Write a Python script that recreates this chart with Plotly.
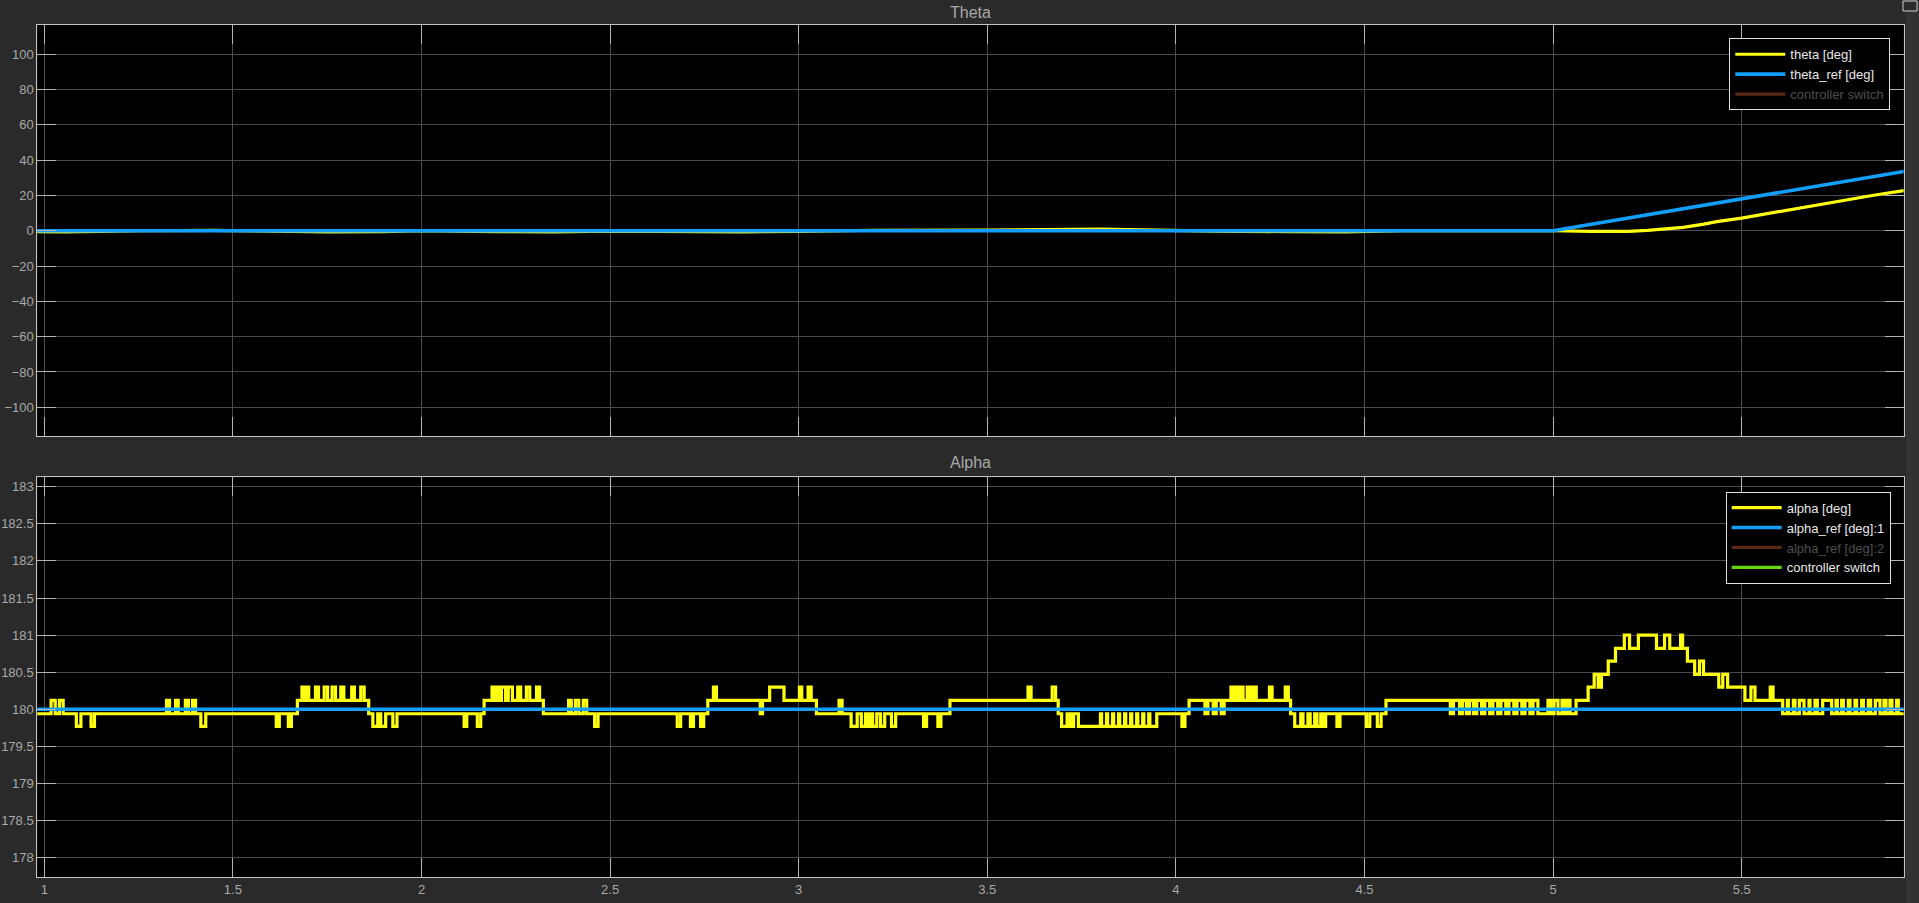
import plotly.graph_objects as go

# ---------------- data ----------------
# Theta plot
theta_time = [0.98, 1.05, 1.15, 1.25, 1.45, 1.6, 1.75, 1.9, 2.0, 2.2, 2.35, 2.5, 2.7, 2.85,
              3.0, 3.2, 3.5, 3.65, 3.8, 3.95, 4.1, 4.3, 4.45, 4.6, 4.8, 5.0, 5.1, 5.2, 5.25,
              5.3, 5.345, 5.4, 5.434, 5.5, 5.6, 5.655, 5.75, 5.85, 5.93]
theta_deg = [-0.5, -0.7, -0.4, 0.0, 0.2, -0.3, -0.7, -0.5, 0.1, -0.5, -0.7, -0.2, -0.4, -0.7,
             -0.3, 0.3, 0.4, 0.7, 0.9, 0.4, -0.2, -0.5, -0.6, 0.0, 0.2, 0.0, -0.3, -0.4, 0.2,
             1.0, 1.9, 3.8, 5.2, 7.2, 10.9, 13.3, 16.6, 20.1, 22.8]
theta_ref_time = [0.98, 5.0, 5.93]
theta_ref_deg = [0.0, 0.0, 33.6]

# Alpha plot (sample-and-hold encoder signal: value holds until next time)
alpha_time = [
    0.98, 1.018, 1.029, 1.040, 1.050, 1.085, 1.097, 1.124, 1.133,
    1.324, 1.332, 1.348, 1.355, 1.374, 1.382, 1.393, 1.401, 1.415, 1.428,
    1.615, 1.623, 1.647, 1.655, 1.671,
    1.683, 1.690, 1.694, 1.701, 1.719, 1.727, 1.742, 1.751, 1.763, 1.772,
    1.786, 1.794, 1.815, 1.822, 1.839, 1.848, 1.860,
    1.871, 1.884, 1.892, 1.905, 1.924, 1.935,
    2.113, 2.120, 2.148, 2.157, 2.166,
    2.187, 2.195, 2.198, 2.206, 2.212, 2.223, 2.230, 2.241, 2.255, 2.263,
    2.278, 2.287, 2.305, 2.313, 2.323,
    2.390, 2.397, 2.408, 2.417, 2.429, 2.438, 2.459, 2.468,
    2.678, 2.687, 2.713, 2.721, 2.740, 2.748, 2.759,
    2.774, 2.782, 2.898, 2.904, 2.923, 2.961, 3.002, 3.008, 3.025, 3.033, 3.047,
    3.107, 3.115, 3.139, 3.155, 3.166, 3.177, 3.182, 3.190, 3.196, 3.207,
    3.217, 3.228, 3.246, 3.257, 3.331, 3.339, 3.369, 3.377, 3.401,
    3.608, 3.616, 3.672, 3.681, 3.688, 3.697,
    3.7116, 3.7202, 3.7287, 3.7415,
    3.800, 3.803, 3.816, 3.819, 3.832, 3.835, 3.848, 3.851, 3.864, 3.867,
    3.880, 3.883, 3.896, 3.899, 3.912, 3.915, 3.928, 3.931, 3.9493,
    4.016, 4.024, 4.035, 4.077, 4.085, 4.099, 4.107, 4.120, 4.128,
    4.146, 4.154, 4.157, 4.165, 4.171, 4.178, 4.189, 4.197, 4.205, 4.213,
    4.248, 4.255, 4.290, 4.298, 4.304, 4.315,
    4.331, 4.337, 4.350, 4.356, 4.368, 4.374, 4.384, 4.391, 4.397,
    4.427, 4.435, 4.505, 4.514, 4.534, 4.544, 4.557,
    4.7274, 4.7359, 4.7519, 4.7594, 4.7700, 4.7785, 4.7892, 4.7977, 4.8105, 4.8190,
    4.8318, 4.8404, 4.8531, 4.8617, 4.8745, 4.8830, 4.8958, 4.9043, 4.9171, 4.9256,
    4.9384, 4.9469, 4.9597, 4.9864, 4.9938, 5.0024, 5.0130, 5.0236, 5.0290, 5.0364,
    5.0450, 5.0609,
    5.0929, 5.1089, 5.1196, 5.1281, 5.1462, 5.1654, 5.1888, 5.2027, 5.2261, 5.2741,
    5.2954, 5.3092, 5.3380, 5.3433, 5.3561, 5.3753, 5.3881, 5.3988, 5.4392, 5.4499,
    5.4627, 5.5085, 5.5245, 5.5352, 5.5757, 5.5831,
    5.6086, 5.6210, 5.6236, 5.6369, 5.6413, 5.6528, 5.6652, 5.6784, 5.6811, 5.6943,
    5.7005, 5.7147, 5.7385, 5.7500, 5.7535, 5.7650, 5.7694, 5.7827, 5.7871, 5.8004,
    5.8048, 5.8180, 5.8225, 5.8357, 5.8419, 5.8543, 5.8666, 5.8772, 5.8825, 5.8931,
    5.8984, 5.9108, 5.9152, 5.93,
]
alpha_deg = [
    179.94, 180.12, 179.94, 180.12, 179.94, 179.77, 179.94, 179.77, 179.94,
    180.12, 179.94, 180.12, 179.94, 180.12, 179.94, 180.12, 179.94, 179.77, 179.94,
    179.77, 179.94, 179.77, 179.94, 180.12,
    180.30, 180.12, 180.30, 180.12, 180.30, 180.12, 180.30, 180.12, 180.30, 180.12,
    180.30, 180.12, 180.30, 180.12, 180.30, 180.12, 179.94,
    179.77, 179.94, 179.77, 179.94, 179.77, 179.94,
    179.77, 179.94, 179.77, 179.94, 180.12,
    180.30, 180.12, 180.30, 180.12, 180.30, 180.12, 180.30, 180.12, 180.30, 180.12,
    180.30, 180.12, 180.30, 180.12, 179.94,
    180.12, 179.94, 180.12, 179.94, 180.12, 179.94, 179.77, 179.94,
    179.77, 179.94, 179.77, 179.94, 179.77, 179.94, 180.12,
    180.30, 180.12, 179.94, 180.12, 180.30, 180.12, 180.30, 180.12, 180.30, 180.12, 179.94,
    180.12, 179.94, 179.77, 179.94, 179.77, 179.94, 179.77, 179.94, 179.77, 179.94,
    179.77, 179.94, 179.77, 179.94, 179.77, 179.94, 179.77, 179.94, 180.12,
    180.30, 180.12, 180.30, 180.12, 179.94, 179.77,
    179.94, 179.77, 179.94, 179.77,
    179.94, 179.77, 179.94, 179.77, 179.94, 179.77, 179.94, 179.77, 179.94, 179.77,
    179.94, 179.77, 179.94, 179.77, 179.94, 179.77, 179.94, 179.77, 179.94,
    179.77, 179.94, 180.12, 179.94, 180.12, 179.94, 180.12, 179.94, 180.12,
    180.30, 180.12, 180.30, 180.12, 180.30, 180.12, 180.30, 180.12, 180.30, 180.12,
    180.30, 180.12, 180.30, 180.12, 179.94, 179.77,
    179.94, 179.77, 179.94, 179.77, 179.94, 179.77, 179.94, 179.77, 179.94,
    179.77, 179.94, 179.77, 179.94, 179.77, 179.94, 180.12,
    179.94, 180.12, 179.94, 180.12, 179.94, 180.12, 179.94, 180.12, 179.94, 180.12,
    179.94, 180.12, 179.94, 180.12, 179.94, 180.12, 179.94, 180.12, 179.94, 180.12,
    179.94, 180.12, 179.94, 180.12, 179.94, 180.12, 179.94, 180.12, 179.94, 180.12,
    179.94, 180.12,
    180.30, 180.47, 180.30, 180.47, 180.65, 180.82, 181.00, 180.82, 181.00, 180.82,
    181.00, 180.82, 181.00, 180.82, 180.65, 180.47, 180.65, 180.47, 180.30, 180.47,
    180.30, 180.12, 180.30, 180.12, 180.30, 180.12,
    179.94, 180.12, 179.94, 180.12, 179.94, 180.12, 179.94, 180.12, 179.94, 180.12,
    179.94, 180.12, 179.94, 180.12, 179.94, 180.12, 179.94, 180.12, 179.94, 180.12,
    179.94, 180.12, 179.94, 180.12, 179.94, 180.12, 179.94, 180.12, 179.94, 180.12,
    179.94, 180.12, 179.94, 179.94,
]
alpha_ref_time = [0.98, 5.93]
alpha_ref_deg = [180.0, 180.0]
switch_time = [0.98, 5.93]
switch_value = [0.0, 0.0]

x_ticks = [1, 1.5, 2, 2.5, 3, 3.5, 4, 4.5, 5, 5.5]
theta_ticks = [-100, -80, -60, -40, -20, 0, 20, 40, 60, 80, 100]
alpha_ticks = [178, 178.5, 179, 179.5, 180, 180.5, 181, 181.5, 182, 182.5, 183]

# ---------------- style ----------------
W, H = 1919, 903
YELLOW = "#ffff11"
BLUE = "#139fff"
BROWN = "#b4522a"
GREEN = "#64d413"
FONT = "Liberation Sans, Arial, sans-serif"
GRID = "#4a4a4a"
TICKC = "#b4b4b4"
LINEC = "#c4c4c4"
LABELC = "#a8a8a8"

fig = go.Figure()

fig.add_trace(go.Scatter(x=theta_time, y=theta_deg, mode="lines", name="theta [deg]",
                         line=dict(color=YELLOW, width=3.2), xaxis="x", yaxis="y",
                         legend="legend"))
fig.add_trace(go.Scatter(x=theta_ref_time, y=theta_ref_deg, mode="lines", name="theta_ref [deg]",
                         line=dict(color=BLUE, width=3.6), xaxis="x", yaxis="y",
                         legend="legend"))
fig.add_trace(go.Scatter(x=switch_time, y=switch_value, mode="lines",
                         name="<span style='color:#9a9a9a'>controller switch</span>",
                         line=dict(color=BROWN, width=3.2), xaxis="x", yaxis="y",
                         legend="legend", visible="legendonly"))

fig.add_trace(go.Scatter(x=alpha_time, y=alpha_deg, mode="lines", name="alpha [deg]",
                         line=dict(color=YELLOW, width=3.2, shape="hv"), xaxis="x2", yaxis="y2",
                         legend="legend2"))
fig.add_trace(go.Scatter(x=alpha_ref_time, y=alpha_ref_deg, mode="lines", name="alpha_ref [deg]:1",
                         line=dict(color=BLUE, width=3.6), xaxis="x2", yaxis="y2",
                         legend="legend2"))
fig.add_trace(go.Scatter(x=alpha_ref_time, y=alpha_ref_deg, mode="lines",
                         name="<span style='color:#9a9a9a'>alpha_ref [deg]:2</span>",
                         line=dict(color=BROWN, width=3.2), xaxis="x2", yaxis="y2",
                         legend="legend2", visible="legendonly"))
fig.add_trace(go.Scatter(x=switch_time, y=switch_value, mode="lines", name="controller switch",
                         line=dict(color=GREEN, width=3.2), xaxis="x2", yaxis="y2",
                         legend="legend2"))

xdom = [37.3 / W, 1903.7 / W]
xrange_ = [0.98144, 5.92948]

common_axis = dict(
    showgrid=True, gridcolor=GRID, gridwidth=1, zeroline=False,
    showline=True, linecolor=LINEC, linewidth=1, mirror="ticks",
    ticks="inside", ticklen=19, tickwidth=1, tickcolor=TICKC,
    tickfont=dict(family=FONT, size=13, color=LABELC),
)

fig.update_layout(
    width=W, height=H,
    margin=dict(l=0, r=0, t=0, b=0),
    paper_bgcolor="#2a2a2a",
    plot_bgcolor="#000000",
    showlegend=True,
    xaxis=dict(domain=xdom, range=xrange_, anchor="y", tickvals=x_ticks,
               showticklabels=False, **common_axis),
    yaxis=dict(domain=[1 - 436 / H, 1 - 25 / H], range=[-116.3, 116.6], anchor="x",
               tickvals=theta_ticks, **common_axis),
    xaxis2=dict(domain=xdom, range=xrange_, anchor="y2", tickvals=x_ticks,
                ticktext=[str(v) for v in x_ticks], **common_axis),
    yaxis2=dict(domain=[1 - 877.3 / H, 1 - 477.3 / H], range=[177.736, 183.127], anchor="x2",
                tickvals=alpha_ticks, **common_axis),
    legend=dict(x=1890.3 / W, xanchor="right", y=1 - 38.3 / H, yanchor="top",
                bgcolor="#000000", bordercolor="#e0e0e0", borderwidth=1,
                font=dict(family=FONT, size=13, color="#e8e8e8"),
                itemwidth=50, tracegroupgap=0, itemclick=False, itemdoubleclick=False),
    legend2=dict(x=1890.7 / W, xanchor="right", y=1 - 491.7 / H, yanchor="top",
                 bgcolor="#000000", bordercolor="#e0e0e0", borderwidth=1,
                 font=dict(family=FONT, size=13, color="#e8e8e8"),
                 itemwidth=50, tracegroupgap=0, itemclick=False, itemdoubleclick=False),
    annotations=[
        dict(text="Theta", x=0.5 * (xdom[0] + xdom[1]), y=1 - 13 / H, xref="paper", yref="paper",
             xanchor="center", yanchor="middle", showarrow=False,
             font=dict(family=FONT, size=16, color="#a8a8a8")),
        dict(text="Alpha", x=0.5 * (xdom[0] + xdom[1]), y=1 - 462.5 / H, xref="paper", yref="paper",
             xanchor="center", yanchor="middle", showarrow=False,
             font=dict(family=FONT, size=16, color="#a8a8a8")),
    ],
    shapes=[
        dict(type="rect", xref="paper", yref="paper", x0=1906 / W, x1=1, y0=0, y1=1,
             fillcolor="#323232", line=dict(width=0), layer="below"),
        dict(type="rect", xref="paper", yref="paper", x0=1903 / W, x1=1917 / W,
             y0=1 - 11 / H, y1=1 - 1 / H, fillcolor="#2a2a2a",
             line=dict(color="#d0d0d0", width=1)),
    ],
)

fig.write_html("out.html", include_plotlyjs=True, config={"displayModeBar": False})
